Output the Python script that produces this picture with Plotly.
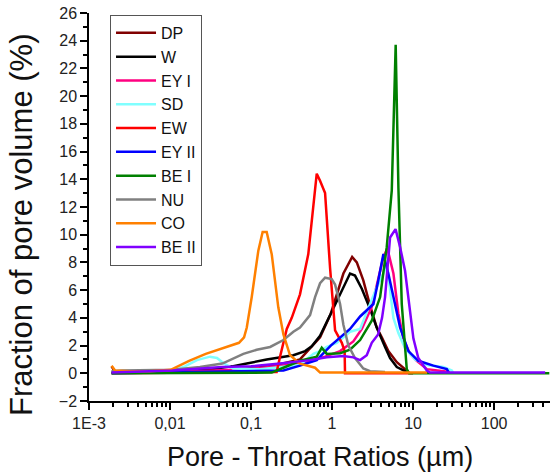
import plotly.graph_objects as go

# ---------------- data (x in µm, y in %) ----------------
names = ["DP", "W", "EY I", "SD", "EW", "EY II", "BE I", "NU", "CO", "BE II"]
colors = ["#800000", "#000000", "#ff0080", "#80ffff", "#ff0000",
          "#0000ff", "#008000", "#808080", "#ff8000", "#8000ff"]

dp_x = [0.0019, 0.0021, 0.01, 0.05, 0.172, 0.402, 0.711, 0.964, 1.38, 1.77, 2.02, 2.43, 2.94, 3.56, 4.11, 4.95, 6.3, 7.96, 8.93]
dp_y = [0.5, 0.1, 0.05, 0.2, 0.5, 1.0, 2.6, 4.3, 7.2, 8.4, 8.0, 6.7, 4.9, 3.3, 2.6, 1.6, 0.8, 0.25, 0.05]

w_x = [0.0019, 0.01, 0.0312, 0.0582, 0.0886, 0.156, 0.333, 0.465, 0.561, 0.711, 0.964, 1.38, 1.667, 1.92, 2.33, 2.94, 3.56, 4.51, 5.2, 6.3, 7.25, 8.67]
w_y = [0.1, 0.15, 0.3, 0.5, 0.7, 1.0, 1.3, 1.6, 1.95, 2.7, 4.3, 6.2, 7.2, 7.05, 6.1, 4.65, 3.3, 1.9, 1.1, 0.45, 0.25, 0.05]

eyi_x = [0.0019, 0.01, 0.1, 0.402, 0.82, 1.256, 1.83, 2.33, 3.09, 3.72, 4.3, 4.82, 5.72, 6.59, 7.59, 9.18, 11.1, 14.8, 26.1, 28.6]
eyi_y = [0.05, 0.1, 0.3, 0.7, 1.2, 1.6, 2.3, 3.2, 4.8, 6.9, 8.4, 9.0, 7.2, 4.3, 2.5, 1.4, 0.9, 0.3, 0.15, 0.1]

sd_x = [0.0019, 0.0056, 0.0107, 0.0153, 0.0215, 0.0312, 0.038, 0.0465, 0.06, 0.129, 0.402, 0.588, 0.711, 0.861, 1.14, 1.667, 2.22, 2.68, 3.56, 4.3, 4.77, 5.2, 5.72, 6.59, 7.96, 10.6, 14.8, 23.7, 30.1, 31.2]
sd_y = [0.05, 0.1, 0.2, 0.5, 0.95, 1.2, 1.1, 0.7, 0.35, 0.3, 0.6, 1.4, 1.6, 1.9, 2.2, 3.0, 3.2, 4.4, 6.2, 7.2, 7.8, 6.0, 4.0, 2.9, 1.8, 1.0, 0.6, 0.45, 0.2, 0.05]

ew_x = [0.0019, 0.01, 0.1, 0.207, 0.228, 0.276, 0.318, 0.402, 0.509, 0.588, 0.647, 0.711, 0.82, 0.945, 1.09, 1.32, 1.43, 1.445, 10.0]
ew_y = [0.0, 0.02, 0.05, 0.1, 1.2, 3.2, 4.0, 5.7, 8.6, 12.0, 14.4, 13.9, 13.0, 7.6, 3.1, 2.2, 1.6, 0.0, 0.0]

eyii_x = [0.0019, 0.01, 0.1, 0.251, 0.402, 0.647, 0.964, 1.667, 2.22, 3.24, 3.72, 4.3, 4.95, 5.72, 6.92, 8.75, 11.6, 17.8, 26.1, 27.3]
eyii_y = [0.0, 0.05, 0.15, 0.2, 0.55, 0.95, 2.0, 3.2, 4.1, 5.0, 6.7, 8.6, 7.2, 5.5, 3.3, 1.6, 0.9, 0.55, 0.3, 0.1]

bei_x = [0.0019, 0.18, 0.251, 0.402, 0.647, 0.746, 0.861, 1.256, 1.667, 2.22, 3.09, 3.92, 4.73, 5.46, 6.1, 6.59, 7.25, 8.36, 8.93, 480.0]
bei_y = [0.0, 0.05, 0.4, 0.9, 1.2, 1.85, 1.4, 1.45, 1.7, 2.4, 3.8, 5.5, 9.1, 13.2, 23.7, 13.4, 5.0, 0.3, 0.0, 0.0]

nu_x = [0.0019, 0.00258, 0.0107, 0.0234, 0.0442, 0.0804, 0.1175, 0.172, 0.251, 0.333, 0.402, 0.535, 0.617, 0.711, 0.82, 0.99, 1.09, 1.256, 1.38, 1.59, 1.92, 2.43, 2.94, 4.51]
nu_y = [0.15, 0.2, 0.25, 0.45, 0.7, 1.4, 1.7, 1.9, 2.4, 3.0, 3.3, 4.2, 5.5, 6.5, 6.9, 6.8, 6.4, 5.0, 3.5, 2.0, 1.1, 0.35, 0.15, 0.1]

co_x = [0.0019, 0.0021, 0.0032, 0.0056, 0.0102, 0.0172, 0.0276, 0.0414, 0.071, 0.082, 0.0886, 0.102, 0.123, 0.139, 0.156, 0.18, 0.217, 0.251, 0.303, 0.402, 0.617, 0.711, 14.9]
co_y = [0.55, 0.2, 0.15, 0.15, 0.25, 0.9, 1.4, 1.76, 2.2, 2.6, 3.3, 5.5, 8.85, 10.2, 10.2, 8.6, 4.76, 2.8, 1.3, 0.7, 0.4, 0.05, 0.05]

beii_x = [0.0019, 0.0107, 0.0439, 0.1, 0.228, 0.535, 0.861, 1.38, 1.83, 2.22, 2.68, 3.09, 3.7, 4.14, 4.51, 5.2, 6.08, 6.92, 7.96, 9.18, 10.1, 11.6, 14.8, 16.2, 427.0]
beii_y = [0.05, 0.2, 0.45, 0.5, 0.7, 0.95, 1.15, 1.25, 1.15, 0.95, 1.3, 2.2, 2.8, 4.0, 5.5, 9.8, 10.4, 9.1, 7.4, 4.5, 2.5, 1.1, 0.2, 0.05, 0.05]

xs = [dp_x, w_x, eyi_x, sd_x, ew_x, eyii_x, bei_x, nu_x, co_x, beii_x]
ys = [dp_y, w_y, eyi_y, sd_y, ew_y, eyii_y, bei_y, nu_y, co_y, beii_y]

x_tickvals = [0.001, 0.01, 0.1, 1, 10, 100]
x_ticktext = ["1E-3", "0,01", "0,1", "1", "10", "100"]
y_tickvals = list(range(-2, 27, 2))

x_minor = [m * 10 ** e for e in range(-3, 3) for m in range(2, 10) if m * 10 ** e < 490]

# ---------------- figure ----------------
fig = go.Figure()
for n, c, x, y in zip(names, colors, xs, ys):
    fig.add_trace(go.Scatter(x=x, y=y, mode="lines", name=n,
                             line=dict(color=c, width=2.5)))

tick_font = dict(family="Liberation Sans Narrow, Arial Narrow, Liberation Sans, Arial", size=16, color="#222")

fig.update_layout(
    width=556, height=475,
    margin=dict(l=89, r=6, t=13, b=74),
    paper_bgcolor="white", plot_bgcolor="white",
    font=dict(family="Liberation Sans, Arial", color="#111"),
    legend=dict(x=0.0456, y=0.995, xanchor="left", yanchor="top",
                bordercolor="#555", borderwidth=1, bgcolor="white",
                font=dict(size=16, family="Liberation Sans, Arial", color="#111"),
                itemwidth=40, tracegroupgap=0),
    showlegend=True,
)
fig.update_xaxes(type="log", range=[-3, 2.69], showgrid=False, zeroline=False,
                 showline=True, linecolor="black", linewidth=1.5,
                 ticks="outside", ticklen=7, tickwidth=1.5, tickcolor="black",
                 tickmode="array", tickvals=x_tickvals, ticktext=x_ticktext,
                 tickfont=tick_font,
                 minor=dict(ticks="outside", ticklen=4, tickwidth=1.5, tickcolor="black",
                            tickmode="array", tickvals=x_minor, showgrid=False))
fig.update_yaxes(range=[-2, 26], showgrid=False, zeroline=False,
                 showline=True, linecolor="black", linewidth=1.5,
                 ticks="outside", ticklen=7, tickwidth=1.5, tickcolor="black",
                 tickmode="array", tickvals=y_tickvals, tickfont=tick_font,
                 minor=dict(ticks="outside", ticklen=4, tickwidth=1.5, tickcolor="black",
                            dtick=1, tick0=-1, showgrid=False))

fig.add_annotation(text="Pore - Throat Ratios (µm)", xref="paper", yref="paper",
                   x=0.5, y=0, yshift=-56, xanchor="center", yanchor="middle",
                   showarrow=False, font=dict(size=27, color="#111"))
fig.add_annotation(text="Fraction of pore volume (%)", xref="paper", yref="paper",
                   x=0, xshift=-68, y=0.4536, xanchor="center", yanchor="middle",
                   textangle=-90, showarrow=False, font=dict(size=31, color="#111"))

fig.write_html("out.html")
